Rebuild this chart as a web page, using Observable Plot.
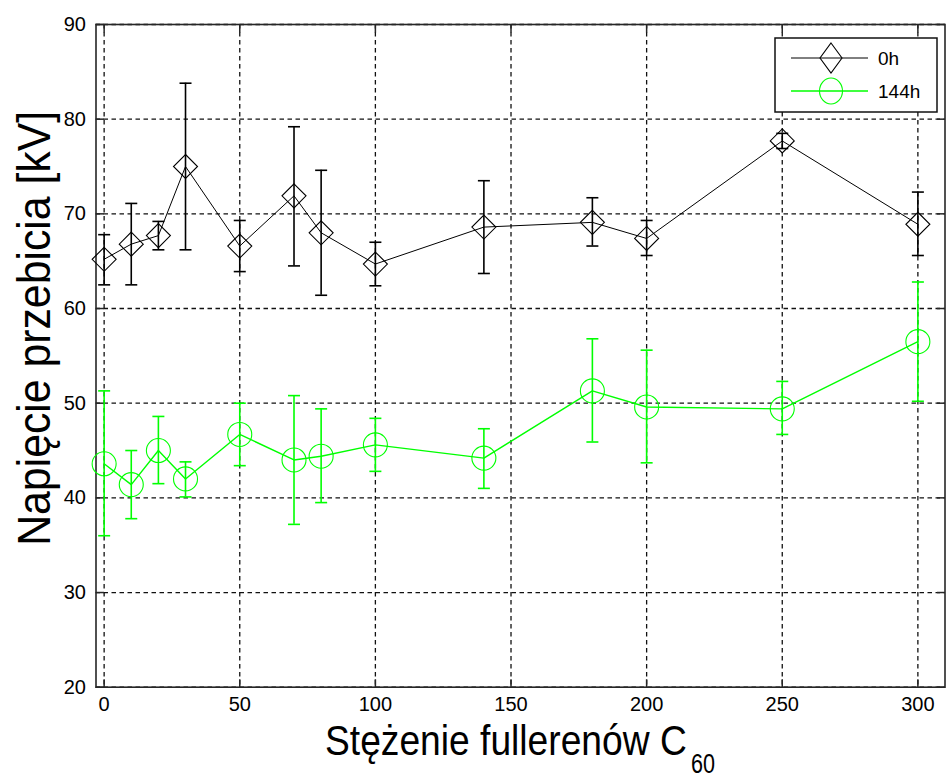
<!DOCTYPE html>
<html>
<head>
<meta charset="utf-8">
<script src="https://cdn.jsdelivr.net/npm/d3@7"></script>
<script src="https://cdn.jsdelivr.net/npm/@observablehq/plot@0.6"></script>
<style>
  html, body { margin: 0; padding: 0; background: #fff; }
  svg { display: block; }
</style>
</head>
<body>
<div id="chart"></div>
<script>
// ---- data ----
const concentrations = [0, 10, 20, 30, 50, 70, 80, 100, 140, 180, 200, 250, 300];
// series "0h"
const mean0h = [65.2, 66.8, 67.7, 75.0, 66.6, 71.9, 68.0, 64.7, 68.6, 69.1, 67.4, 77.7, 68.9];
const low0h  = [62.5, 62.5, 66.2, 66.2, 63.9, 64.5, 61.4, 62.4, 63.7, 66.6, 65.6, 76.9, 65.6];
const high0h = [67.8, 71.1, 69.2, 83.8, 69.3, 79.2, 74.6, 67.0, 73.5, 71.7, 69.3, 78.5, 72.3];
// series "144h"
const mean144h = [43.6, 41.4, 45.0, 42.0, 46.7, 44.0, 44.4, 45.6, 44.2, 51.3, 49.6, 49.4, 56.5];
const low144h  = [36.0, 37.8, 41.5, 40.1, 43.4, 37.2, 39.5, 42.8, 41.0, 45.9, 43.7, 46.7, 50.2];
const high144h = [51.3, 45.0, 48.6, 43.8, 50.0, 50.8, 49.4, 48.4, 47.3, 56.8, 55.6, 52.3, 62.8];

const xTicks = [0, 50, 100, 150, 200, 250, 300];
const yTicks = [20, 30, 40, 50, 60, 70, 80, 90];
const seriesNames = ["0h", "144h"];
const seriesColors = ["#000000", "#00ff00"];
const xLabel = "Stężenie fullerenów C";
const xLabelSub = "60";
const yLabel = "Napięcie przebicia [kV]";

(function () {
const d0 = concentrations.map((x, i) => ({x, mean: mean0h[i], lo: low0h[i], hi: high0h[i]}));
const d1 = concentrations.map((x, i) => ({x, mean: mean144h[i], lo: low144h[i], hi: high144h[i]}));

// ---- symbols ----
const diamond = {draw(c) { c.moveTo(0, -12); c.lineTo(12, 0); c.lineTo(0, 12); c.lineTo(-12, 0); c.closePath(); }};
const cap = {draw(c) { c.moveTo(-6, 0); c.lineTo(6, 0); }};
const tUp = {draw(c) { c.moveTo(0, 0); c.lineTo(0, -8); }};
const tDown = {draw(c) { c.moveTo(0, 0); c.lineTo(0, 8); }};
const tRight = {draw(c) { c.moveTo(0, 0); c.lineTo(8, 0); }};
const tLeft = {draw(c) { c.moveTo(0, 0); c.lineTo(-8, 0); }};

const gridStyle = {stroke: "#111", strokeOpacity: 1, strokeWidth: 1.3, strokeDasharray: "4.5,3.5"};
const frameColor = "#262626";

function series(data, color, symbol, lineW) {
  return [
    Plot.ruleX(data, {x: "x", y1: "lo", y2: "hi", stroke: color, strokeWidth: 1.6}),
    Plot.dot(data, {x: "x", y: "lo", symbol: cap, r: 6, fill: "none", stroke: color, strokeWidth: 1.6}),
    Plot.dot(data, {x: "x", y: "hi", symbol: cap, r: 6, fill: "none", stroke: color, strokeWidth: 1.6}),
    Plot.line(data, {x: "x", y: "mean", stroke: color, strokeWidth: lineW}),
    Plot.dot(data, {x: "x", y: "mean", symbol, r: 12, fill: "none", stroke: color, strokeWidth: 1.1})
  ];
}

const plot = Plot.plot({
  width: 947,
  height: 778,
  marginLeft: 95.5,
  marginRight: 2.5,
  marginTop: 24,
  marginBottom: 91.3,
  x: {domain: [-3, 310]},
  y: {domain: [20, 90]},
  style: {fontFamily: "'Liberation Sans', Arial, sans-serif", fontSize: "20px", color: "#000", background: "#fff"},
  marks: [
    Plot.gridX(xTicks, gridStyle),
    Plot.gridY(yTicks, gridStyle),
    Plot.axisX(xTicks, {tickSize: 0, tickPadding: 10, fontSize: 20, label: null}),
    Plot.axisY(yTicks, {tickSize: 0, tickPadding: 10, fontSize: 20, label: null}),
    Plot.dot(xTicks, {x: d => d, frameAnchor: "bottom", symbol: tUp, fill: "none", stroke: frameColor, strokeWidth: 1.5}),
    Plot.dot(xTicks, {x: d => d, frameAnchor: "top", symbol: tDown, fill: "none", stroke: frameColor, strokeWidth: 1.5}),
    Plot.dot(yTicks, {y: d => d, frameAnchor: "left", symbol: tRight, fill: "none", stroke: frameColor, strokeWidth: 1.5}),
    Plot.dot(yTicks, {y: d => d, frameAnchor: "right", symbol: tLeft, fill: "none", stroke: frameColor, strokeWidth: 1.5}),
    Plot.frame({stroke: frameColor, strokeWidth: 1.6}),
    ...series(d0, seriesColors[0], diamond, 1),
    ...series(d1, seriesColors[1], "circle", 1.4)
  ]
});

document.getElementById("chart").appendChild(plot);

// ---- axis titles and legend ----
const svg = d3.select(plot);
const xs = plot.scale("x"), ys = plot.scale("y");
const pLeft = xs.apply(-3), pRight = xs.apply(310), pTop = ys.apply(90), pBottom = ys.apply(20);
const cx = (pLeft + pRight) / 2;
const font = "'Liberation Sans', Arial, sans-serif";

// a text squeezed to a target length along its own direction
function squeezed(str, size, targetLen, tx, ty, rot, anchor) {
  const g = svg.append("g");
  const t = g.append("text")
    .attr("text-anchor", anchor)
    .attr("font-family", font).attr("font-size", size).attr("fill", "#000")
    .text(str);
  const L = t.node().getComputedTextLength() || targetLen;
  g.attr("transform", `translate(${tx},${ty}) rotate(${rot}) scale(${targetLen / L},1)`);
  return g;
}

// x label (with subscript)
squeezed(xLabel, 42, 362, cx - 195, pBottom + 68, 0, "start");
squeezed(xLabelSub, 27, 24, cx + 171, pBottom + 86, 0, "start");

// y label
squeezed(yLabel, 47, 435, pLeft - 46, (pTop + pBottom) / 2 - 27, -90, "middle");

// legend
const lg = svg.append("g");
const bx0 = pRight - 169.5, bx1 = pRight - 7.5, by0 = pTop + 14, by1 = pTop + 88;
lg.append("rect").attr("x", bx0).attr("y", by0).attr("width", bx1 - bx0).attr("height", by1 - by0)
  .attr("fill", "#fff").attr("stroke", "#111").attr("stroke-width", 1.5);
const rows = [by0 + 20, by0 + 53];
seriesNames.forEach((name, i) => {
  const yy = rows[i];
  const mx = bx0 + 56;
  lg.append("line").attr("x1", bx0 + 16).attr("x2", bx0 + 93).attr("y1", yy).attr("y2", yy)
    .attr("stroke", seriesColors[i]).attr("stroke-width", i ? 1.4 : 1);
  if (i === 0) {
    lg.append("path").attr("d", `M${mx},${yy - 15}L${mx + 11},${yy}L${mx},${yy + 15}L${mx - 11},${yy}Z`)
      .attr("fill", "none").attr("stroke", seriesColors[i]).attr("stroke-width", 1.1);
  } else {
    lg.append("ellipse").attr("cx", mx).attr("cy", yy).attr("rx", 11.5).attr("ry", 13)
      .attr("fill", "none").attr("stroke", seriesColors[i]).attr("stroke-width", 1.1);
  }
  lg.append("text").attr("x", bx0 + 103).attr("y", yy + 7)
    .attr("text-anchor", "start")
    .attr("font-family", font).attr("font-size", 19).attr("fill", "#000").text(name);
});
})();
</script>
</body>
</html>
